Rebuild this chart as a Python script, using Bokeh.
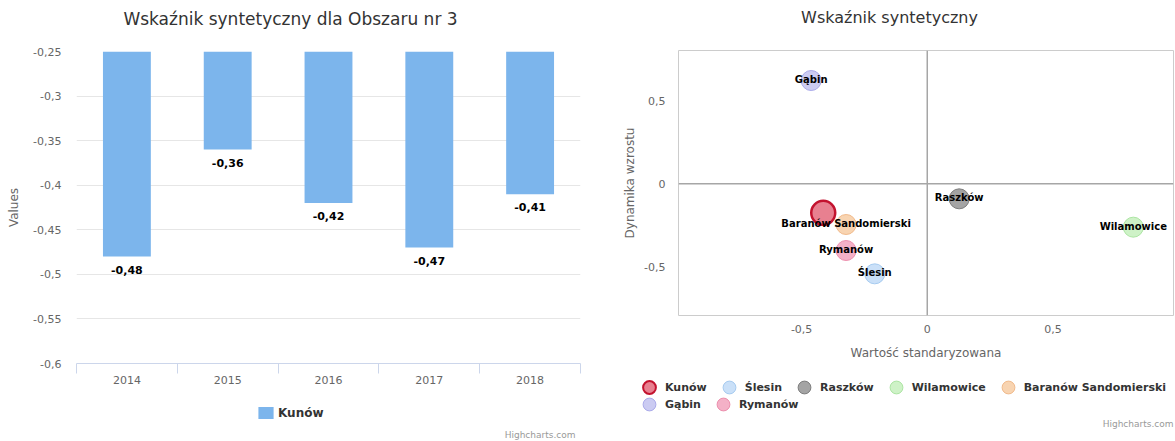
from bokeh.plotting import figure
from bokeh.layouts import row, column
from bokeh.models import (FixedTicker, CustomJSTickFormatter, Span, Legend, LegendItem, Range1d)
from bokeh.core.properties import value
from bokeh.embed import file_html
from bokeh.resources import INLINE

# ---------------- data ----------------
years = ["2014", "2015", "2016", "2017", "2018"]
kunow_values = [-0.48, -0.36, -0.42, -0.47, -0.41]
bar_y_ticks = [-0.6, -0.55, -0.5, -0.45, -0.4, -0.35, -0.3, -0.25]

gminy = ["Kunów", "Ślesin", "Raszków", "Wilamowice", "Baranów Sandomierski", "Gąbin", "Rymanów"]
wartosc = [-0.414, -0.209, 0.127, 0.82, -0.323, -0.462, -0.323]
dynamika = [-0.174, -0.54, -0.09, -0.26, -0.244, 0.62, -0.40]
fill_colors = ["#e46a7c", "#c4ddf7", "#9a9a9a", "#c9f1c1", "#f7cfa8", "#c5c5f1", "#f3a9c1"]
line_colors = ["#c3132f", "#a6cbf0", "#7d7d7d", "#ace5a3", "#f1ba8b", "#aaaaea", "#ec8fad"]
scatter_ticks = [-0.5, 0, 0.5]

title_left = "Wskaźnik syntetyczny dla Obszaru nr 3"
title_right = "Wskaźnik syntetyczny"
credits = "Highcharts.com"

FONT = "DejaVu Sans"
GRAY = "#666666"
W1, W2 = 588, 587

def pl(v):
    s = ("%.2f" % v).rstrip("0").rstrip(".")
    return s.replace(".", ",")

fmt = CustomJSTickFormatter(code="var s = (Math.round(tick*100)/100).toString(); return s.replace('.', ',');")


def blank(width, height):
    """A bare, pixel-scaled strip (y grows downward) used for titles, legends and credits."""
    f = figure(width=width, height=height, x_range=Range1d(0, width), y_range=Range1d(height, 0),
               x_axis_type=None, y_axis_type=None, output_backend="svg", toolbar_location=None,
               min_border=0, min_border_left=0, min_border_right=0, min_border_top=0,
               min_border_bottom=0)
    try:
        f.frame_align = False
    except Exception:
        pass
    f.grid.visible = False
    f.outline_line_color = None
    return f


def title_strip(width, height, text, cx, cy, size):
    f = blank(width, height)
    f.text(x=[cx], y=[cy], text=[text], text_align="center", text_baseline="middle",
           text_font=value(FONT), text_font_size=size, text_color="#333333")
    return f


def add_credits(f, x, y):
    f.text(x=[x], y=[y], text=[credits], text_align="right", text_baseline="middle",
           text_font=value(FONT), text_font_size="9px", text_color="#999999")


# ---------------- left: bar chart ----------------
h1 = title_strip(W1, 41, title_left, 290, 18, "17px")

p1 = figure(width=W1, height=352, x_range=Range1d(0, len(years)), y_range=Range1d(-0.6, -0.25),
            output_backend="svg", toolbar_location=None,
            min_border_left=76, min_border_right=8, min_border_top=10, min_border_bottom=30)
p1.outline_line_color = None

xs = [i + 0.5 for i in range(len(years))]
p1.vbar(x=xs, width=0.475, top=0, bottom=kunow_values, fill_color="#7cb5ec", line_color=None)
p1.text(x=xs, y=kunow_values, text=[pl(v) for v in kunow_values], text_align="center",
        text_baseline="top", y_offset=9, text_font=value(FONT), text_font_size="11px",
        text_font_style="bold", text_color="#000000")

p1.yaxis.ticker = FixedTicker(ticks=bar_y_ticks)
p1.ygrid.ticker = FixedTicker(ticks=bar_y_ticks)
p1.yaxis.formatter = fmt
p1.yaxis.axis_line_color = None
p1.yaxis.major_tick_line_color = None
p1.yaxis.minor_tick_line_color = None
p1.yaxis.major_tick_out = 0
p1.yaxis.major_label_standoff = 15
p1.yaxis.major_label_text_font = FONT
p1.yaxis.major_label_text_font_size = "11px"
p1.yaxis.major_label_text_color = GRAY
p1.yaxis.axis_label = "Values"
p1.yaxis.axis_label_text_font = FONT
p1.yaxis.axis_label_text_font_size = "12px"
p1.yaxis.axis_label_text_font_style = "normal"
p1.yaxis.axis_label_text_color = GRAY
p1.yaxis.axis_label_standoff = 9
p1.ygrid.grid_line_color = "#e6e6e6"
p1.xgrid.grid_line_color = None

p1.xaxis.ticker = FixedTicker(ticks=xs, minor_ticks=list(range(len(years) + 1)))
p1.xaxis.major_label_overrides = {x: y for x, y in zip(xs, years)}
p1.xaxis.axis_line_color = "#ccd6eb"
p1.xaxis.major_tick_line_color = None
p1.xaxis.major_tick_out = 0
p1.xaxis.major_tick_in = 0
p1.xaxis.minor_tick_line_color = "#ccd6eb"
p1.xaxis.minor_tick_out = 10
p1.xaxis.minor_tick_in = 0
p1.xaxis.major_label_standoff = 2
p1.xaxis.major_label_text_font = FONT
p1.xaxis.major_label_text_font_size = "11px"
p1.xaxis.major_label_text_color = GRAY

f1 = blank(W1, 47)
key_bars = f1.vbar(x=xs, width=0.475, top=0, bottom=kunow_values, fill_color="#7cb5ec",
                   line_color=None, visible=False)
leg1 = Legend(items=[LegendItem(label="Kunów", renderers=[key_bars])], orientation="horizontal",
              location=(256, 20), glyph_width=19, glyph_height=15, label_standoff=3,
              label_text_font=FONT, label_text_font_size="12px", label_text_font_style="bold",
              label_text_color="#333333", border_line_color=None, background_fill_alpha=0,
              inactive_fill_alpha=0, margin=0, padding=0)
f1.add_layout(leg1)
add_credits(f1, 575, 41)

# ---------------- right: scatter ----------------
h2 = title_strip(W2, 40, title_right, 301, 17, "16px")

p2 = figure(width=W2, height=325, x_range=Range1d(-0.99, 0.98), y_range=Range1d(-0.79, 0.8),
            output_backend="svg", toolbar_location=None,
            min_border_left=90, min_border_right=2, min_border_top=10, min_border_bottom=50)
p2.outline_line_color = "#cccccc"
p2.grid.grid_line_color = None

p2.add_layout(Span(location=0, dimension="height", line_color="#a6a6a6", line_width=1.5))
p2.add_layout(Span(location=0, dimension="width", line_color="#a6a6a6", line_width=1.5))

for i, name in enumerate(gminy):
    big = i == 0
    p2.scatter(x=[wartosc[i]], y=[dynamika[i]], size=24 if big else 20,
               fill_color=fill_colors[i], fill_alpha=0.85 if big else 0.9,
               line_color=line_colors[i], line_width=2.5 if big else 1)
# Kunów's own label is hidden behind the others in the original, so only the rest are labelled
p2.text(x=wartosc[1:], y=dynamika[1:], text=gminy[1:], text_align="center", text_baseline="middle",
        y_offset=-1, text_font=value(FONT), text_font_size="10px", text_font_style="bold",
        text_color="#000000")

for ax in (p2.xaxis, p2.yaxis):
    ax.ticker = FixedTicker(ticks=scatter_ticks)
    ax.formatter = fmt
    ax.axis_line_color = None
    ax.major_tick_line_color = None
    ax.minor_tick_line_color = None
    ax.major_tick_out = 0
    ax.major_label_text_font = FONT
    ax.major_label_text_font_size = "11px"
    ax.major_label_text_color = GRAY
    ax.axis_label_text_font = FONT
    ax.axis_label_text_font_size = "12px"
    ax.axis_label_text_font_style = "normal"
    ax.axis_label_text_color = GRAY
p2.yaxis.major_label_standoff = 13
p2.yaxis.axis_label = "Dynamika wzrostu"
p2.yaxis.axis_label_standoff = 4
p2.xaxis.major_label_standoff = 9
p2.xaxis.axis_label = "Wartość standaryzowana"
p2.xaxis.axis_label_standoff = 10

f2 = blank(W2, 75)
keys = []
for i, name in enumerate(gminy):
    big = i == 0
    keys.append(f2.scatter(x=[wartosc[i]], y=[dynamika[i]], size=24 if big else 20,
                           fill_color=fill_colors[i], fill_alpha=0.85 if big else 0.9,
                           line_color=line_colors[i], line_width=2 if big else 1, visible=False))
items = [LegendItem(label=n, renderers=[r]) for n, r in zip(gminy, keys)]
common = dict(orientation="horizontal", glyph_width=32, glyph_height=32, label_standoff=0,
              spacing=6, label_text_font=FONT, label_text_font_size="11px",
              label_text_font_style="bold", label_text_color="#333333", border_line_color=None,
              background_fill_alpha=0, inactive_fill_alpha=0, margin=0, padding=0)
legA = Legend(items=items[:5], location=(45, 37), **common)
legB = Legend(items=items[5:], location=(45, 20), **common)
f2.add_layout(legA)
f2.add_layout(legB)
add_credits(f2, 585, 58)

layout = row(column(h1, p1, f1, spacing=0), column(h2, p2, f2, spacing=0), spacing=0)
open("out.html", "w").write(file_html(layout, INLINE))
